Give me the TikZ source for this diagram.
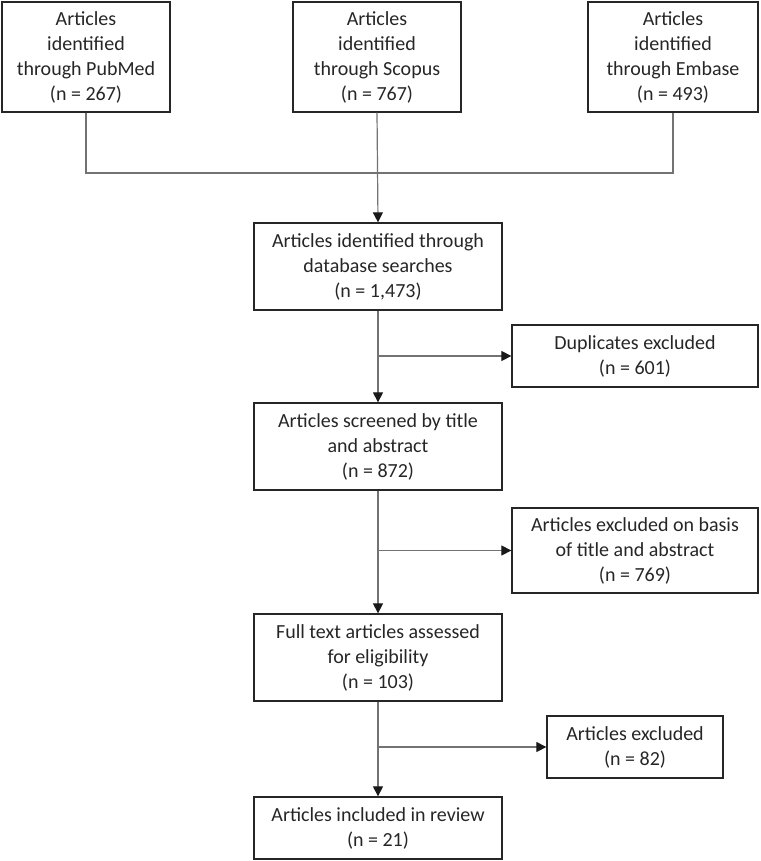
\documentclass[tikz,border=0pt]{standalone}
\usepackage{fontspec}
\setmainfont{Carlito}
\usetikzlibrary{arrows.meta}
\begin{document}
\begin{tikzpicture}[x=1pt,y=-1pt,
  box/.style={draw=black!85,line width=1.3pt,inner sep=0pt,align=center,
    font=\fontsize{20}{25}\selectfont,text=black!85},
  conn/.style={draw=black!55,line width=1.2pt},
  arr/.style={conn,-{Triangle[length=10pt,width=10pt,fill=black!90,color=black!90]}}]
\useasboundingbox (0,0) rectangle (760,861);
\node[box,minimum width=168,minimum height=110] (pub) at (86,57) {Articles\\identified\\through PubMed\\(n = 267)};
\node[box,minimum width=168,minimum height=110] (sco) at (377,57) {Articles\\identified\\through Scopus\\(n = 767)};
\node[box,minimum width=170,minimum height=110] (emb) at (673,57) {Articles\\identified\\through Embase\\(n = 493)};
\node[box,minimum width=248,minimum height=87] (db) at (378,266.5) {Articles identified through\\database searches\\(n = 1,473)};
\node[box,minimum width=246,minimum height=62] (dup) at (635,356) {Duplicates excluded\\(n = 601)};
\node[box,minimum width=248,minimum height=87] (scr) at (378,446.5) {Articles screened by title\\and abstract\\(n = 872)};
\node[box,minimum width=246,minimum height=85] (exa) at (635,550.5) {Articles excluded on basis\\of title and abstract\\(n = 769)};
\node[box,minimum width=248,minimum height=87] (full) at (378,657.5) {Full text articles assessed\\for eligibility\\(n = 103)};
\node[box,minimum width=176,minimum height=62] (exb) at (635,747) {Articles excluded\\(n = 82)};
\node[box,minimum width=248,minimum height=62] (inc) at (378,828) {Articles included in review\\(n = 21)};
\coordinate (j) at (377,173);
\draw[conn] (pub.south) -- (pub.south |- j) -- (emb.south |- j) -- (emb.south);
\draw[arr] (sco.south) -- (db.north);
\draw[arr] (db.south) -- (scr.north);
\draw[arr] (scr.south) -- (full.north);
\draw[arr] (full.south) -- (inc.north);
\draw[arr] (db.south |- dup.west) -- (dup.west);
\draw[arr] (scr.south |- exa.west) -- (exa.west);
\draw[arr] (full.south |- exb.west) -- (exb.west);
\end{tikzpicture}
\end{document}
